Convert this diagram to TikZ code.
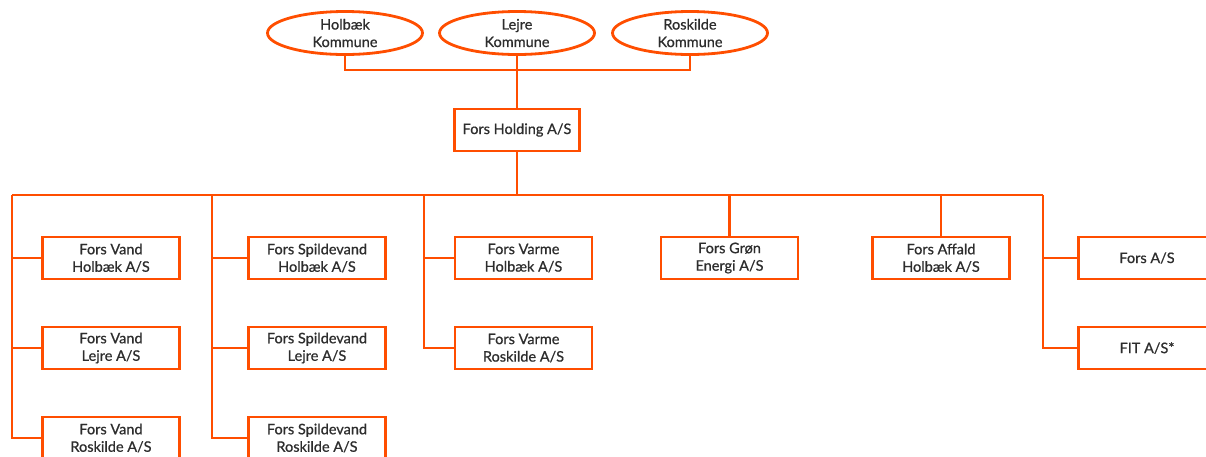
\documentclass[tikz,border=0pt]{standalone}
\usepackage{fontspec}
\newfontfamily\forsfont{Lato}[FakeBold=0.7]
\usetikzlibrary{shapes.geometric,calc}
\definecolor{forsorange}{RGB}{255,78,0}
\definecolor{forstext}{RGB}{45,45,45}

\begin{document}
\begin{tikzpicture}[x=1pt,y=-1pt,
    every node/.style={font=\forsfont\fontsize{14.5}{17.5}\selectfont, text=forstext, align=center},
    kommune/.style={ellipse, draw=forsorange, line width=2.8pt, minimum width=155pt, minimum height=43pt, inner sep=0pt},
    firma/.style={rectangle, draw=forsorange, line width=2.8pt, minimum width=137pt, minimum height=42pt, inner sep=0pt},
    link/.style={draw=forsorange, line width=2.8pt}]
  \useasboundingbox (0,0) rectangle (1206,456);
  \clip (0,0) rectangle (1206,456);
  \def\rA{258}\def\rB{348}\def\rC{438}
  % Owners
  \node [kommune] (holbaek) at (345,33) {Holbæk\\Kommune};
  \node [kommune] (lejre) at (517,33) {Lejre\\Kommune};
  \node [kommune] (roskilde) at (690,33) {Roskilde\\Kommune};
  % Holding
  \node [firma, minimum width=125pt] (holding) at (517,130) {Fors Holding A/S};
  % Subsidiaries
  \node [firma] (vandH) at (111,\rA) {Fors Vand\\Holbæk A/S};
  \node [firma] (vandL) at (111,\rB) {Fors Vand\\Lejre A/S};
  \node [firma] (vandR) at (111,\rC) {Fors Vand\\Roskilde A/S};
  \node [firma] (spildH) at (317,\rA) {Fors Spildevand\\Holbæk A/S};
  \node [firma] (spildL) at (317,\rB) {Fors Spildevand\\Lejre A/S};
  \node [firma] (spildR) at (317,\rC) {Fors Spildevand\\Roskilde A/S};
  \node [firma] (varmeH) at (523.5,\rA) {Fors Varme\\Holbæk A/S};
  \node [firma] (varmeR) at (523.5,\rB) {Fors Varme\\Roskilde A/S};
  \node [firma] (groen) at (729.5,\rA) {Fors Grøn\\Energi A/S};
  \node [firma] (affald) at (941,\rA) {Fors Affald\\Holbæk A/S};
  \node [firma] (fors) at (1147,\rA) {Fors A/S};
  \node [firma] (fit) at (1147,\rB) {FIT A/S*};
  % Bus points
  \coordinate (busL) at (12,195);
  \coordinate (busR) at (1043,195);
  \coordinate (colB) at (212,195);
  \coordinate (colC) at (424,195);
  % Owner lines
  \draw [link] (holbaek.south) -- ++(0,14) -| (roskilde.south);
  \draw [link] (lejre.south) -- (holding.north);
  % Holding to bus
  \draw [link] (holding.south) -- (holding.south |- busL);
  \draw [link] (busL) -- (busR);
  % Columns
  \draw [link] (busL) |- (vandR.west);
  \draw [link] (colB) |- (spildR.west);
  \draw [link] (colC) |- (varmeR.west);
  \draw [link] (busR) |- (fit.west);
  \foreach \n/\c in {vandH/busL, vandL/busL, spildH/colB, spildL/colB, varmeH/colC, fors/busR} {
    \draw [link] (\n.west) -- (\n.west -| \c);
  }
  \foreach \n in {groen, affald} {
    \draw [link] (\n.north) -- (\n.north |- busL);
  }
\end{tikzpicture}
\end{document}
